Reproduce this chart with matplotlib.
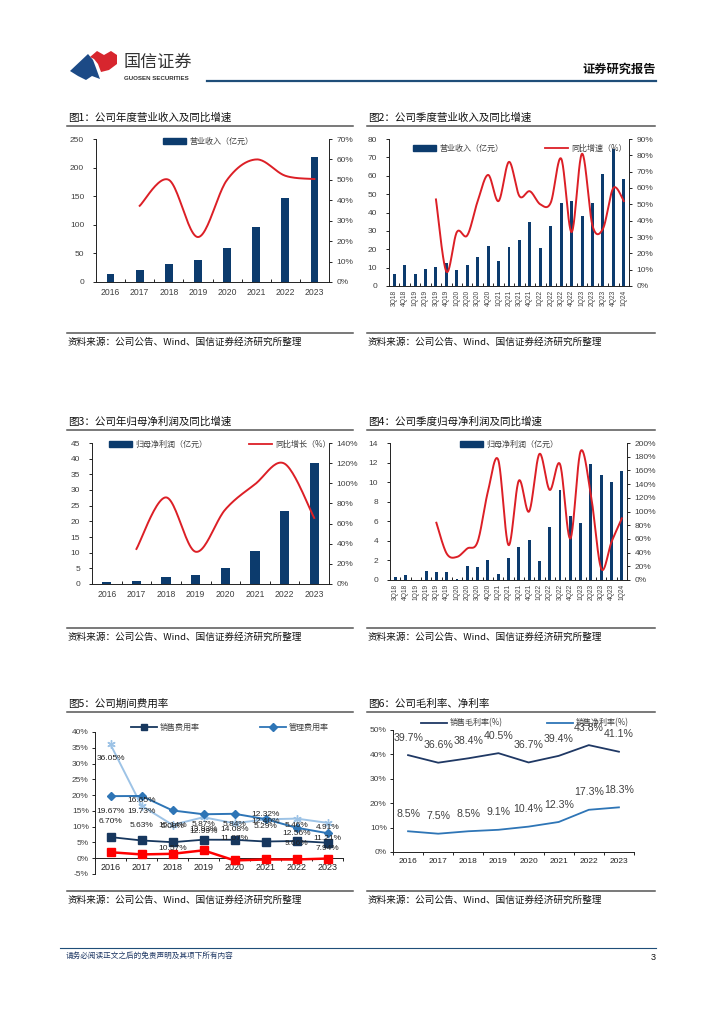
import numpy as np
import matplotlib
matplotlib.use('Agg')
import matplotlib.pyplot as plt
from matplotlib.patches import Polygon, Patch
from matplotlib.lines import Line2D
from matplotlib.ticker import FuncFormatter

plt.rcParams['font.family'] = ['Noto Sans CJK SC', 'DejaVu Sans']
plt.rcParams['axes.unicode_minus'] = False

# ---------------- data ----------------
years = ['2016', '2017', '2018', '2019', '2020', '2021', '2022', '2023']
rev_annual = [14, 21, 31, 39, 59, 96, 146, 219]
rev_annual_yoy = [None, 37.3, 50.0, 22.0, 50.0, 60.0, 52.0, 50.4]

quarters = ['3Q18', '4Q18', '1Q19', '2Q19', '3Q19', '4Q19', '1Q20', '2Q20', '3Q20', '4Q20',
            '1Q21', '2Q21', '3Q21', '4Q21', '1Q22', '2Q22', '3Q22', '4Q22', '1Q23', '2Q23',
            '3Q23', '4Q23', '1Q24']
rev_q = [6.5, 11.5, 6.5, 9.0, 10.3, 12.5, 8.5, 11.7, 16.0, 21.8, 13.5, 21.2, 25.0, 34.8,
         20.6, 32.8, 45.3, 46.3, 38.2, 45.3, 61.0, 74.5, 58.3]
rev_q_yoy = [None, None, None, None, 53, 8.8, 33, 31, 52, 68, 52, 76, 55, 58, 50, 51, 78,
             33, 81, 37, 35, 60, 52]

np_annual = [0.7, 0.9, 2.1, 2.8, 5.2, 10.4, 23.4, 38.7]
np_annual_yoy = [None, 34.8, 86.0, 32.0, 74.0, 99.0, 119.5, 65.6]

np_q = [0.35, 0.5, 0.05, 0.95, 0.85, 0.85, 0.15, 1.45, 1.3, 2.0, 0.65, 2.25, 3.4, 4.05,
        1.95, 5.4, 9.2, 6.55, 5.8, 11.9, 10.7, 10.0, 11.1]
np_q_yoy = [None, None, None, None, 83.6, 38.6, 33.7, 46, 55.7, 129, 175.5, 51, 145, 100,
            184, 131.5, 169, 60.6, 188, 124, 16.6, 55.7, 90]

sales_rate = [6.70, 5.63, 5.08, 5.87, 5.84, 5.29, 5.46, 4.91]
mgmt_rate = [19.67, 19.73, 15.14, 13.93, 14.08, 12.40, 9.66, 7.94]
rd_rate = [36.05, 16.65, 10.57, 12.99, 11.07, 12.32, 12.56, 11.21]
fin_rate = [1.9, 1.2, 1.4, 2.5, -0.7, -0.4, -0.4, -0.1]

gross_margin = [39.7, 36.6, 38.4, 40.5, 36.7, 39.4, 43.8, 41.1]
net_margin = [8.5, 7.5, 8.5, 9.1, 10.4, 12.3, 17.3, 18.3]

# ---------------- style ----------------
NAVY = '#0c3b6d'
RED = '#dc1f26'
TICKC = '#404040'
NUMFONT = ['Liberation Sans', 'DejaVu Sans']
CJK = ['Noto Sans CJK SC', 'DejaVu Sans']

W, H = 724, 1024
fig = plt.figure(figsize=(W / 100, H / 100), dpi=100)


def add_ax(l, t, r, b):
    return fig.add_axes([l / W, 1 - b / H, (r - l) / W, (b - t) / H])


def ftext(x, y, s, **kw):
    kw.setdefault('va', 'center')
    return fig.text(x / W, 1 - y / H, s, **kw)


def hline(x0, x1, y, color='#555555', lw=1.0):
    fig.add_artist(Line2D([x0 / W, x1 / W], [1 - y / H, 1 - y / H],
                          transform=fig.transFigure, color=color, lw=lw))


def smooth(xs, ys, n=24):
    pts = np.column_stack([xs, ys]).astype(float)
    P = np.vstack([pts[0], pts, pts[-1]])
    out = []
    t = np.linspace(0, 1, n, endpoint=False)[:, None]
    for i in range(1, len(P) - 2):
        p0, p1, p2, p3 = P[i - 1], P[i], P[i + 1], P[i + 2]
        seg = 0.5 * ((2 * p1) + (-p0 + p2) * t + (2 * p0 - 5 * p1 + 4 * p2 - p3) * t ** 2
                     + (-p0 + 3 * p1 - 3 * p2 + p3) * t ** 3)
        out.append(seg)
    out.append(pts[-1][None])
    return np.vstack(out)


def style_ticklabels(ax, size=6):
    for lab in ax.get_yticklabels():
        lab.set_fontfamily(NUMFONT)
        lab.set_fontsize(size)
        lab.set_color(TICKC)


def combo(box, cats, bars, bw, lmax, lstep, rmax, rstep, yoy, rotate=False):
    ax = add_ax(*box)
    n = len(cats)
    x = np.arange(n)
    ax.bar(x, bars, width=bw, color=NAVY, zorder=2)
    ax.set_xlim(-0.5, n - 0.5)
    ax.set_ylim(0, lmax)
    ax.set_yticks(np.arange(0, lmax + lstep / 2, lstep))
    ax.yaxis.set_major_formatter(FuncFormatter(lambda v, p: f'{v:g}'))
    ax2 = ax.twinx()
    ax2.set_ylim(0, rmax)
    ax2.set_yticks(np.arange(0, rmax + rstep / 2, rstep))
    ax2.yaxis.set_major_formatter(FuncFormatter(lambda v, p: f'{v:.0f}%'))
    xs = [i for i, v in enumerate(yoy) if v is not None]
    ys = [v for v in yoy if v is not None]
    pts = smooth(xs, ys)
    ax2.plot(pts[:, 0], pts[:, 1], color=RED, lw=1.4, zorder=3)
    for a in (ax, ax2):
        a.spines['top'].set_visible(False)
        for s in a.spines.values():
            s.set_linewidth(0.7)
            s.set_color('#222222')
    ax.spines['right'].set_visible(False)
    ax2.spines['left'].set_visible(False)
    ax2.spines['bottom'].set_visible(False)
    ax.set_xticks(x)
    if rotate:
        ax.set_xticklabels(cats, rotation=90, fontsize=4.8, color=TICKC, fontfamily=NUMFONT)
    else:
        ax.set_xticklabels(cats, fontsize=6.2, color=TICKC, fontfamily=NUMFONT)
    ax.set_xticks(np.arange(-0.5, n, 1), minor=True)
    ax.tick_params(axis='x', which='major', length=0, pad=4 if not rotate else 2.5)
    ax.tick_params(axis='x', which='minor', direction='in', length=2.5, width=0.6)
    ax.tick_params(axis='y', direction='out', length=2.5, width=0.6, pad=6)
    ax2.tick_params(axis='y', direction='out', length=2.5, width=0.6, pad=3)
    style_ticklabels(ax)
    style_ticklabels(ax2)
    return ax, ax2


def legend_at(x, y, handles, labels, ncol=1, hl=2.9, cs=4.0):
    fig.legend(handles, labels, loc='center left', bbox_to_anchor=(x / W, 1 - y / H),
               frameon=False, ncol=ncol, borderpad=0, borderaxespad=0,
               handlelength=hl, handletextpad=0.35, columnspacing=cs,
               prop={'family': CJK, 'size': 5.8}, labelcolor='#404040')


# ---------------- header / footer ----------------
red_logo = [(90, 57), (97, 51), (104, 55), (111, 51), (117, 55), (117, 64), (109, 70),
            (101, 72), (98, 64), (94, 59)]
blue_logo = [(70, 71), (88, 54), (93, 60), (96, 68), (100, 79), (92, 76), (86, 80), (78, 76)]
for poly, col in ((blue_logo, '#1c4a86'), (red_logo, '#d7262e')):
    fig.add_artist(Polygon([(px / W, 1 - py / H) for px, py in poly], closed=True,
                           transform=fig.transFigure, color=col, lw=0))
ftext(124, 62, '国信证券', fontsize=12.3, color='#333333', family=CJK)
ftext(124, 78, 'GUOSEN SECURITIES', fontsize=4.4, color='#333333', family=NUMFONT,
      fontweight='bold')
hline(207, 656, 80.5, color='#1f4e79', lw=1.6)
ftext(656, 69, '证券研究报告', fontsize=8.8, fontweight='bold', color='#111111',
      family=CJK, ha='right')

hline(60, 656, 948, color='#1f4e79', lw=0.8)
ftext(66, 956, '请务必阅读正文之后的免责声明及其项下所有内容', fontsize=5.5,
      color='#1f3864', family=CJK)
ftext(656, 957, '3', fontsize=6.5, color='#111111', family=NUMFONT, ha='right')

# ---------------- titles / sources ----------------
titles = [(68, 118, '图1：公司年度营业收入及同比增速'), (368, 118, '图2：公司季度营业收入及同比增速'),
          (68, 422, '图3：公司年归母净利润及同比增速'), (368, 422, '图4：公司季度归母净利润及同比增速'),
          (68, 704, '图5：公司期间费用率'), (368, 704, '图6：公司毛利率、净利率')]
for tx, ty, s in titles:
    ftext(tx, ty, s, fontsize=7.6, color='#111111', family=CJK)
    hline(tx - 1, tx + 285 if tx < 300 else 655, ty + 8, color='#555555', lw=1.1)

src = '资料来源：公司公告、Wind、国信证券经济研究所整理'
for sy in (342, 637, 900):
    for sx, ex in ((68, 353), (368, 655)):
        ftext(sx, sy, src, fontsize=6.9, color='#111111', family=CJK)
        hline(sx - 1, ex, sy - 9.5, color='#555555', lw=1.1)

# ---------------- chart 1 ----------------
ax1, ax1b = combo((96, 139, 329, 282), years, rev_annual, 0.27, 250, 50, 70, 10, rev_annual_yoy)
legend_at(163, 141, [Patch(color=NAVY)], ['营业收入（亿元）'], hl=2.9)

# ---------------- chart 2 ----------------
ax2, ax2b = combo((389, 139, 629, 286), quarters, rev_q, 0.28, 80, 10, 90, 10, rev_q_yoy,
                  rotate=True)
legend_at(413, 148, [Patch(color=NAVY), Line2D([], [], color=RED, lw=1.3)],
          ['营业收入（亿元）', '同比增速（%）'], ncol=2, hl=2.9, cs=5.2)

# ---------------- chart 3 ----------------
ax3, ax3b = combo((92, 443, 329, 584), years, np_annual, 0.31, 45, 5, 140, 20, np_annual_yoy)
legend_at(109, 444, [Patch(color=NAVY), Line2D([], [], color=RED, lw=1.3)],
          ['归母净利润（亿元）', '同比增长（%）'], ncol=2, hl=2.9, cs=5.2)

# ---------------- chart 4 ----------------
ax4, ax4b = combo((390, 443, 627, 580), quarters, np_q, 0.28, 14, 2, 200, 20, np_q_yoy,
                  rotate=True)
legend_at(460, 444, [Patch(color=NAVY)], ['归母净利润（亿元）'], hl=2.9)

# ---------------- chart 5 ----------------
ax5 = add_ax(95, 732, 343, 874)
x = np.arange(len(years))
ax5.plot(x, rd_rate, color='#9dc3e6', lw=1.4, marker=(6, 2, 0), ms=6, mew=1.0, zorder=3)
ax5.plot(x, mgmt_rate, color='#2e75b6', lw=1.4, marker='D', ms=4.2, zorder=4)
ax5.plot(x, sales_rate, color='#17375e', lw=1.3, marker='s', ms=5.2, zorder=5)
ax5.plot(x, fin_rate, color='#ff0000', lw=1.8, marker='s', ms=6, zorder=6)
ax5.set_xlim(-0.5, len(years) - 0.5)
ax5.set_ylim(-5, 40)
ax5.set_yticks(np.arange(-5, 41, 5))
ax5.yaxis.set_major_formatter(FuncFormatter(lambda v, p: f'{v:.0f}%'))
for s in ('top', 'right'):
    ax5.spines[s].set_visible(False)
ax5.spines['bottom'].set_position(('data', 0))
for s in ax5.spines.values():
    s.set_linewidth(0.7)
    s.set_color('#222222')
ax5.set_xticks(x)
ax5.set_xticklabels(years, fontsize=6.5, color='#222222', fontfamily=NUMFONT)
ax5.set_xticks(np.arange(-0.5, len(years), 1), minor=True)
ax5.tick_params(axis='x', which='major', length=0, pad=3.5)
ax5.tick_params(axis='x', which='minor', direction='out', length=2.5, width=0.6)
ax5.tick_params(axis='y', direction='out', length=2.5, width=0.6, pad=2)
style_ticklabels(ax5)

sales_off = [11] * 8
mgmt_off = [-11, -11, -11, -11, -11, -1.5, -11, -11]
rd_off = [-10, 3.5, -17, -10, -11, 3.5, -11, -11]
for vals, offs in ((sales_rate, sales_off), (mgmt_rate, mgmt_off), (rd_rate, rd_off)):
    for i, (v, o) in enumerate(zip(vals, offs)):
        ax5.annotate(f'{v:.2f}%', (i, v), xytext=(0, o), textcoords='offset points',
                     ha='center', va='center', fontsize=6, color='#222222',
                     fontfamily=NUMFONT, zorder=7)
legend_at(131, 727, [Line2D([], [], color='#17375e', lw=1.3, marker='s', ms=5),
                     Line2D([], [], color='#2e75b6', lw=1.3, marker='D', ms=4)],
          ['销售费用率', '管理费用率'], ncol=2, hl=3.2, cs=7.5)

# ---------------- chart 6 ----------------
ax6 = add_ax(393, 730, 634, 852)
ax6.plot(x, gross_margin, color='#1f3864', lw=1.3, zorder=3)
ax6.plot(x, net_margin, color='#2e75b6', lw=1.3, zorder=3)
ax6.set_xlim(-0.5, len(years) - 0.5)
ax6.set_ylim(0, 50)
ax6.set_yticks(np.arange(0, 51, 10))
ax6.yaxis.set_major_formatter(FuncFormatter(lambda v, p: f'{v:.0f}%'))
for s in ('top', 'right'):
    ax6.spines[s].set_visible(False)
for s in ax6.spines.values():
    s.set_linewidth(0.7)
    s.set_color('#222222')
ax6.set_xticks(x)
ax6.set_xticklabels(years, fontsize=6, color='#222222', fontfamily=NUMFONT)
ax6.set_xticks(np.arange(-0.5, len(years), 1), minor=True)
ax6.tick_params(axis='x', which='major', length=0, pad=4)
ax6.tick_params(axis='x', which='minor', direction='out', length=2.5, width=0.6)
ax6.tick_params(axis='y', direction='out', length=2.5, width=0.6, pad=2)
style_ticklabels(ax6)
for vals in (gross_margin, net_margin):
    for i, v in enumerate(vals):
        ax6.annotate(f'{v:.1f}%', (i, v), xytext=(0, 12.5), textcoords='offset points',
                     ha='center', va='center', fontsize=7.6, color='#404040',
                     fontfamily=NUMFONT, zorder=5)
legend_at(421, 723, [Line2D([], [], color='#1f3864', lw=1.3),
                     Line2D([], [], color='#2e75b6', lw=1.3)],
          ['销售毛利率(%)', '销售净利率(%)'], ncol=2, hl=3.2, cs=5.5)

fig.savefig('out.png', dpi=100, facecolor='white')
